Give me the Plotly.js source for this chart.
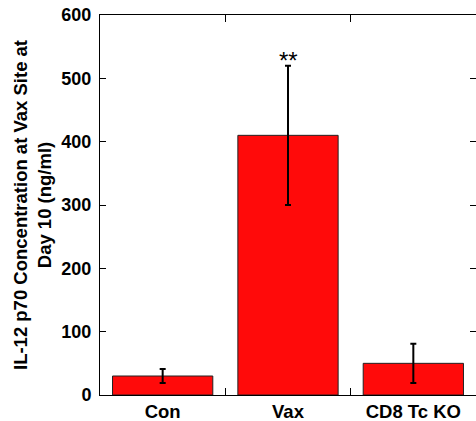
<!DOCTYPE html>
<html><head><meta charset="utf-8">
<script src="https://cdn.plot.ly/plotly-3.0.1.min.js"></script>
<style>html,body{margin:0;padding:0;overflow:hidden;background:#fff}</style>
</head><body><div id="chart" style="width:476px;height:421px"></div>
<script>
const categories = ['Con', 'Vax', 'CD8 Tc KO'];
const values = [30, 410, 50];
const errors = [11, 110, 31];
const sigLabel = '**';
const sigCategory = 'Vax';
const sigValue = 528;

const FONT = 'Arial, "Liberation Sans", sans-serif';

const trace = {
  type: 'bar', x: categories, y: values, width: 0.8,
  marker: {color: '#ff0a0a', line: {color: '#222', width: 1}},
  error_y: {type: 'data', array: errors, visible: true, color: '#000', thickness: 2, width: 3}
};

const layout = {
  width: 476, height: 421,
  margin: {l: 100, r: 0, t: 15, b: 26},
  paper_bgcolor: '#fff', plot_bgcolor: '#fff',
  showlegend: false,
  font: {family: FONT, color: '#000', size: 18, weight: 700},
  xaxis: {
    type: 'category', range: [-0.5, 2.5],
    showline: true, linecolor: '#000', linewidth: 1, mirror: 'ticks',
    ticks: 'inside', ticklen: 7, tickcolor: '#000', tickson: 'boundaries',
    tickfont: {family: FONT, size: 18.5, weight: 700, color: '#000'},
    showgrid: false, zeroline: false
  },
  yaxis: {
    range: [0, 600], tickvals: [0, 100, 200, 300, 400, 500, 600],
    showline: true, linecolor: '#000', linewidth: 1, mirror: 'ticks',
    ticks: 'inside', ticklen: 6, tickcolor: '#000', ticklabelstandoff: 4,
    tickfont: {family: FONT, size: 18, weight: 700, color: '#000'},
    showgrid: false, zeroline: false,
    title: {text: 'IL-12 p70 Concentration at Vax Site at<br>Day 10 (ng/ml)', font: {family: FONT, size: 18.5, weight: 700, color: '#000'}, standoff: 4}
  },
  annotations: [{
    x: sigCategory, y: sigValue, xref: 'x', yref: 'y', text: sigLabel, showarrow: false,
    yanchor: 'middle', font: {family: FONT, size: 24, color: '#000', weight: 400}
  }]
};

Plotly.newPlot('chart', [trace], layout, {displayModeBar: false, staticPlot: true});
</script></body></html>
